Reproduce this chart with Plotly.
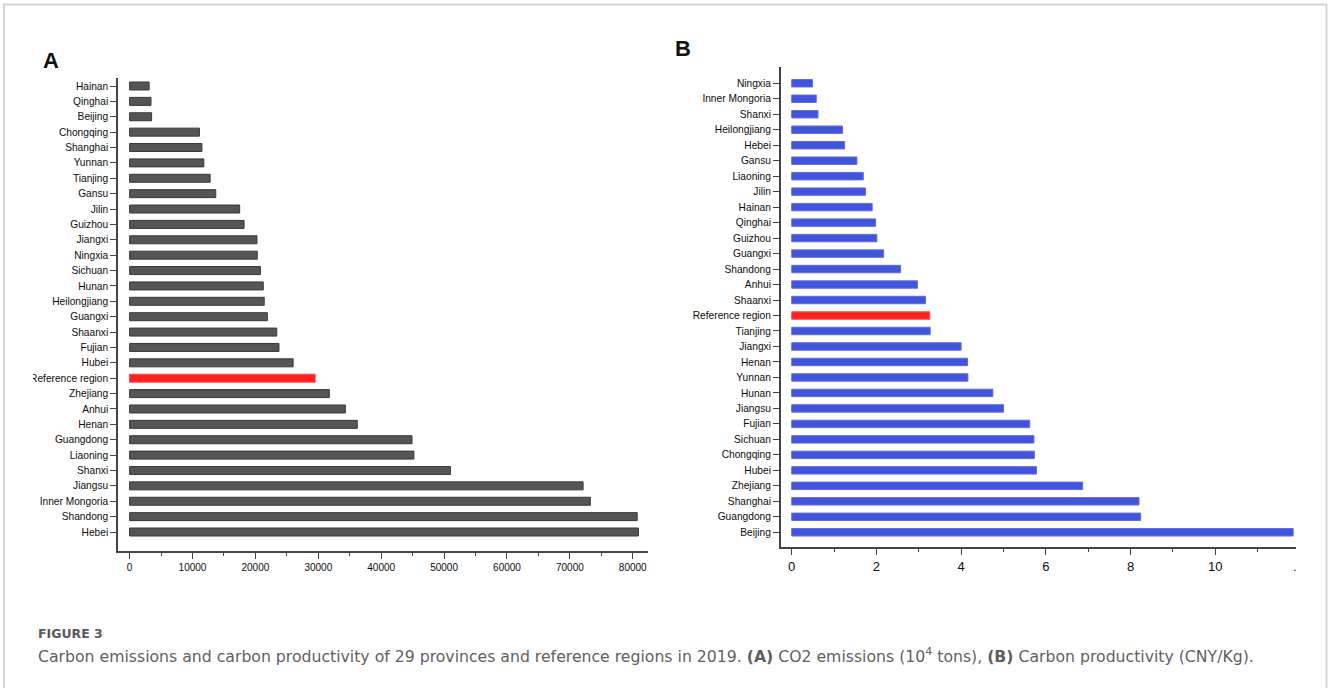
import plotly.graph_objects as go

W, H = 1328, 688

# Panel A: CO2 emissions (10^4 tons), listed from the top bar down
emis_regions = ["Hainan", "Qinghai", "Beijing", "Chongqing", "Shanghai", "Yunnan",
                "Tianjing", "Gansu", "Jilin", "Guizhou", "Jiangxi", "Ningxia",
                "Sichuan", "Hunan", "Heilongjiang", "Guangxi", "Shaanxi", "Fujian",
                "Hubei", "Reference region", "Zhejiang", "Anhui", "Henan",
                "Guangdong", "Liaoning", "Shanxi", "Jiangsu", "Inner Mongoria",
                "Shandong", "Hebei"]
emis_values = [3100, 3400, 3500, 11100, 11500, 11800, 12800, 13700, 17500, 18200,
               20250, 20300, 20800, 21250, 21400, 21900, 23400, 23750, 26000, 29500,
               31750, 34300, 36200, 44900, 45200, 51000, 72100, 73250, 80700, 80900]
emis_ticks = [0, 10000, 20000, 30000, 40000, 50000, 60000, 70000, 80000]

# Panel B: carbon productivity (CNY/Kg), listed from the top bar down
prod_regions = ["Ningxia", "Inner Mongoria", "Shanxi", "Heilongjiang", "Hebei",
                "Gansu", "Liaoning", "Jilin", "Hainan", "Qinghai", "Guizhou",
                "Guangxi", "Shandong", "Anhui", "Shaanxi", "Reference region",
                "Tianjing", "Jiangxi", "Henan", "Yunnan", "Hunan", "Jiangsu",
                "Fujian", "Sichuan", "Chongqing", "Hubei", "Zhejiang", "Shanghai",
                "Guangdong", "Beijing"]
prod_values = [0.49, 0.58, 0.62, 1.20, 1.25, 1.54, 1.69, 1.74, 1.90, 1.98, 2.01,
               2.17, 2.57, 2.97, 3.16, 3.26, 3.27, 4.00, 4.15, 4.16, 4.75, 5.00,
               5.62, 5.72, 5.73, 5.78, 6.87, 8.20, 8.24, 11.84]
prod_ticks = [0, 2, 4, 6, 8, 10]

HIGHLIGHT = "Reference region"
RED, RED_EDGE = "#ff2020", "#ff4a4a"
GREY, GREY_EDGE = "#555555", "#383838"
BLUE, BLUE_EDGE = "#4254d9", "#5e6ce6"

LABEL_FONT = dict(family="Liberation Sans, Arial, sans-serif", size=10.2, color="#0d0d0d")
AXIS_COLOR = "#444444"


def px_x(p):
    return p / W


def px_y(p):
    return 1 - p / H


fig = go.Figure()

fig.add_trace(go.Bar(
    x=emis_values, y=emis_regions, orientation="h", width=0.52,
    marker=dict(color=[RED if r == HIGHLIGHT else GREY for r in emis_regions],
                line=dict(color=[RED_EDGE if r == HIGHLIGHT else GREY_EDGE for r in emis_regions],
                          width=1)),
    xaxis="x", yaxis="y", showlegend=False,
))

fig.add_trace(go.Bar(
    x=prod_values, y=prod_regions, orientation="h", width=0.48,
    marker=dict(color=[RED if r == HIGHLIGHT else BLUE for r in prod_regions],
                line=dict(color=[RED_EDGE if r == HIGHLIGHT else BLUE_EDGE for r in prod_regions],
                          width=1)),
    xaxis="x2", yaxis="y2", showlegend=False,
))

common_x = dict(showline=True, linecolor=AXIS_COLOR, linewidth=1.5, showgrid=False,
                zeroline=False, ticks="outside", tickcolor=AXIS_COLOR, ticklen=6,
                tickwidth=1.3)
common_y = dict(showline=True, linecolor=AXIS_COLOR, linewidth=1.5, showgrid=False,
                zeroline=False, ticks="outside", tickcolor=AXIS_COLOR, ticklen=6,
                tickwidth=1.3, type="category", tickfont=LABEL_FONT)

fig.update_layout(
    width=W, height=H,
    margin=dict(l=0, r=0, t=0, b=0),
    paper_bgcolor="white", plot_bgcolor="white",
    xaxis=dict(domain=[px_x(118), px_x(648)], anchor="y",
               range=[-1844, 82420], tickvals=emis_ticks, tickformat="d",
               tickfont=dict(family="Liberation Sans, Arial, sans-serif", size=10, color="#0d0d0d"),
               minor=dict(dtick=5000, tick0=0, ticks="outside", ticklen=3,
                          tickcolor=AXIS_COLOR, tickwidth=1.2),
               **common_x),
    yaxis=dict(domain=[px_y(551), px_y(78)], anchor="x",
               categoryorder="array", categoryarray=emis_regions,
               range=[30.235, -0.52], **common_y),
    xaxis2=dict(domain=[px_x(780.7), px_x(1295.7)], anchor="y2",
                range=[-0.26, 11.9], tickvals=prod_ticks,
                tickfont=dict(family="Liberation Sans, Arial, sans-serif", size=13, color="#0d0d0d"),
                minor=dict(dtick=1, tick0=0, ticks="outside", ticklen=3,
                           tickcolor=AXIS_COLOR, tickwidth=1.2),
                **common_x),
    yaxis2=dict(domain=[px_y(547.3), px_y(67)], anchor="x2",
                categoryorder="array", categoryarray=prod_regions,
                range=[29.97, -1.05], **common_y),
)

annotations = [
    dict(text="<b>A</b>", x=px_x(51), y=px_y(60), xref="paper", yref="paper",
         showarrow=False, xanchor="center", yanchor="middle",
         font=dict(family="Liberation Sans, Arial, sans-serif", size=22, color="#111111")),
    dict(text="<b>B</b>", x=px_x(683), y=px_y(48), xref="paper", yref="paper",
         showarrow=False, xanchor="center", yanchor="middle",
         font=dict(family="Liberation Sans, Arial, sans-serif", size=22, color="#111111")),
    dict(text=".", x=px_x(1295), y=px_y(566), xref="paper", yref="paper",
         showarrow=False, xanchor="center", yanchor="middle",
         font=dict(family="Liberation Sans, Arial, sans-serif", size=13, color="#1a1a1a")),
    dict(text="<b>FIGURE 3</b>", x=px_x(36), y=px_y(633.5), xref="paper", yref="paper",
         showarrow=False, xanchor="left", yanchor="middle",
         font=dict(family="DejaVu Sans, sans-serif", size=12.5, color="#5a5a5a")),
    dict(text="Carbon emissions and carbon productivity of 29 provinces and reference regions in 2019. "
              "<b>(A)</b> CO2 emissions (10<sup>4</sup> tons), <b>(B)</b> Carbon productivity (CNY/Kg).",
         x=px_x(36), y=px_y(655), xref="paper", yref="paper",
         showarrow=False, xanchor="left", yanchor="middle",
         font=dict(family="DejaVu Sans, sans-serif", size=15.7, color="#5f5f5f")),
]
fig.update_layout(annotations=annotations)

# left margin of the page trims the start of the longest label in panel A
fig.add_shape(type="rect", xref="paper", yref="paper", layer="above",
              x0=px_x(5), x1=px_x(33), y0=px_y(372), y1=px_y(386),
              fillcolor="white", line=dict(width=0))

# light frame around the figure (top, left and right edges)
fig.add_shape(type="path", xref="paper", yref="paper",
              path=f"M {px_x(4)} {px_y(H + 5)} L {px_x(4)} {px_y(4.5)} "
                   f"L {px_x(1326.5)} {px_y(4.5)} L {px_x(1326.5)} {px_y(H + 5)}",
              line=dict(color="#d2d2d2", width=1.8))

fig.write_html("out.html")
